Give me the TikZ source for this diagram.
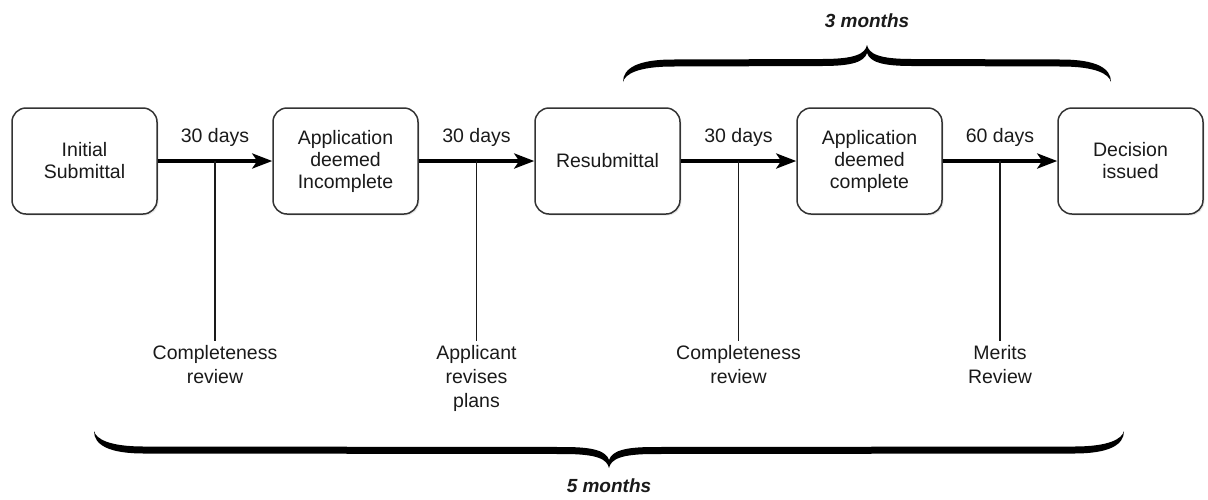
\documentclass[tikz,border=0pt]{standalone}
\usepackage{fontspec}
\setmainfont{Liberation Sans}
\usetikzlibrary{arrows.meta,calc,shadows}
\definecolor{ink}{HTML}{1A1A1A}
\definecolor{boxline}{HTML}{333333}
\tikzset{
  stage/.style={draw=boxline, line width=1.5pt, rounded corners=14pt, fill=white,
    minimum width=145pt, minimum height=106pt, inner sep=0pt, align=center,
    text=ink, font=\fontsize{19.5}{22}\selectfont,
    drop shadow={opacity=0.18, shadow xshift=1.5pt, shadow yshift=-1.5pt}},
  flow/.style={line width=4.5pt, draw=black, -{Stealth[length=20pt,width=15pt,inset=5pt]}},
  days/.style={anchor=south, inner sep=0pt, text=ink, font=\fontsize{19.5}{22}\selectfont},
  tick/.style={line width=1.2pt, draw=ink},
  note/.style={anchor=north, inner sep=0pt, align=center, text=ink, font=\fontsize{19.5}{24}\selectfont},
  span/.style={inner sep=0pt, text=ink, font=\fontsize{19}{22}\selectfont\bfseries\itshape},
}
% calligraphic brace: center x, end y, half width, direction (1 = tip up, -1 = tip down)
\newcommand{\mybrace}[4]{%
  \begin{scope}[shift={(#1,#2)}, yscale=#4]
    \fill[black] (-#3,0) .. controls (-#3,-14) and ({-#3+15},-22.5) .. ({-#3+50},-22.5)
      -- (-45,-23) .. controls (-12,-23) and (-2,-28) .. (0,-37)
      .. controls (2,-28) and (12,-23) .. (45,-23)
      -- ({#3-50},-22.5) .. controls ({#3-15},-22.5) and (#3,-14) .. (#3,0)
      .. controls ({#3-2},-8) and ({#3-15},-15.5) .. ({#3-50},-15.5)
      -- (45,-16) .. controls (15,-16) and (3,-20) .. (0,-29)
      .. controls (-3,-20) and (-15,-16) .. (-45,-16)
      -- ({-#3+50},-15.5) .. controls ({-#3+15},-15.5) and ({-#3+2},-8) .. cycle;
  \end{scope}}
\begin{document}
\begin{tikzpicture}[x=1pt, y=-1pt]
\useasboundingbox (0,0) rectangle (1208,499);

\node[stage] (b1) at (84.5,161) {Initial\\Submittal};
\node[stage] (b2) at (345.5,161) {Application\\deemed\\Incomplete};
\node[stage] (b3) at (607.5,161) {Resubmittal};
\node[stage] (b4) at (869.5,161) {Application\\deemed\\complete};
\node[stage] (b5) at (1130.5,161) {Decision\\issued};

\foreach \a/\b/\i/\d in {b1/b2/1/30 days, b2/b3/2/30 days, b3/b4/3/30 days, b4/b5/4/60 days}{
  \draw[flow] (\a.east) -- (\b.west);
  \coordinate (m\i) at ($(\a.east)!0.5!(\b.west)$);
  \coordinate (e\i) at ($(m\i)+(0,180)$);
  \node[days] (d\i) at ($(m\i)+(0,-14)$) {\d};
  \draw[tick] (m\i) -- (e\i);
}

\node[note] (n1) at ($(e1)+(0,4)$) {Completeness\\review};
\node[note] (n2) at ($(e2)+(0,4)$) {Applicant\\revises\\plans};
\node[note] (n3) at ($(e3)+(0,4)$) {Completeness\\review};
\node[note] (n4) at ($(e4)+(0,4)$) {Merits\\Review};

\mybrace{867}{82}{244}{1}
\node[span] (t3) at (867,21) {3 months};

\mybrace{609}{431}{515}{-1}
\node[span] (t5) at (609,486) {5 months};
\end{tikzpicture}
\end{document}
